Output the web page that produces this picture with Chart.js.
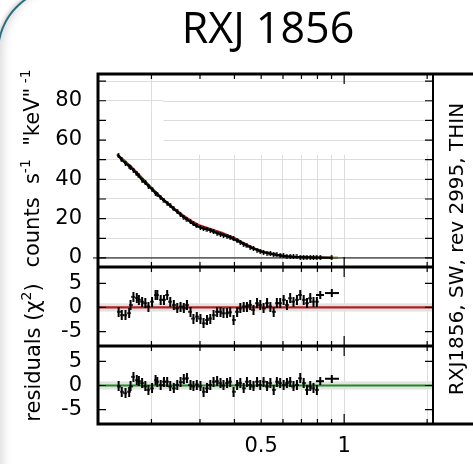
<!DOCTYPE html>
<html>
<head>
<meta charset="utf-8">
<script src="https://cdn.jsdelivr.net/npm/chart.js@4.4.1/dist/chart.umd.min.js"></script>
<style>
  html, body { margin: 0; padding: 0; background: #fff; }
  #wrap { position: relative; width: 473px; height: 464px; overflow: hidden; background: #fff; }
  #frame {
    position: absolute; left: -3px; top: -13px; width: 700px; height: 700px;
    border-top-left-radius: 65px;
    border-top: 2px solid #2d6d7d; border-left: 2px solid #2d6d7d;
    box-shadow: inset 10px 0 8px -6px rgba(0,0,0,0.14), -1px -1px 4px rgba(0,0,0,0.2);
  }
  canvas { position: absolute; left: 0; top: 0; }
</style>
</head>
<body>
<div id="wrap">
  <div id="frame"></div>
  <canvas id="chart" width="473" height="464"></canvas>
</div>
<script>
// energy bins (keV)
const energies = [
  0.152, 0.156, 0.161, 0.166, 0.168, 0.172, 0.177, 0.180, 0.185, 0.190,
  0.195, 0.201, 0.207, 0.210, 0.216, 0.222, 0.228, 0.234, 0.241, 0.248,
  0.255, 0.262, 0.269, 0.277, 0.284, 0.292, 0.301, 0.309, 0.318, 0.327,
  0.336, 0.346, 0.356, 0.365, 0.376, 0.386, 0.397, 0.409, 0.420, 0.432,
  0.444, 0.456, 0.469, 0.483, 0.496, 0.510, 0.525, 0.540, 0.555, 0.570,
  0.586, 0.603, 0.620, 0.637, 0.655, 0.674, 0.693, 0.713, 0.733, 0.753,
  0.774, 0.796, 0.819, 0.902
];
// counts s^-1 keV^-1
const counts = [
  52.0, 50.0, 48.2, 46.6, 46.2, 44.7, 42.8, 41.8, 39.6, 38.2,
  36.6, 34.8, 33.0, 32.3, 30.8, 29.4, 27.9, 26.6, 25.0, 23.5,
  22.0, 20.8, 19.6, 18.4, 17.3, 16.3, 15.5, 15.0, 14.6, 14.1,
  13.4, 12.6, 12.1, 11.6, 11.0, 10.4, 9.7, 8.8, 8.0, 7.1,
  6.3, 5.5, 4.8, 4.0, 3.4, 2.9, 2.5, 2.2, 1.9, 1.6,
  1.3, 1.0, 0.8, 0.7, 0.6, 0.5, 0.4, 0.35, 0.3, 0.25,
  0.2, 0.2, 0.15, 0.1
];
// model curves
const modelE = [0.15, 0.16, 0.17, 0.18, 0.19, 0.2, 0.22, 0.24, 0.26, 0.28, 0.3, 0.32, 0.34,
  0.36, 0.38, 0.4, 0.43, 0.46, 0.5, 0.55, 0.6, 0.65, 0.7, 0.8, 0.95];
const modelRed = [52.8, 49.5, 46.0, 42.5, 39.0, 35.8, 30.0, 25.5, 21.8, 18.8, 16.5, 15.3, 14.0,
  12.8, 11.5, 10.2, 7.8, 5.6, 3.4, 1.9, 1.0, 0.6, 0.4, 0.2, 0.05];
const modelGreen = [52.5, 49.0, 45.5, 42.0, 38.6, 35.3, 29.6, 25.0, 21.2, 18.0, 15.7, 14.6, 13.3,
  12.2, 11.0, 9.8, 7.5, 5.4, 3.3, 1.9, 1.0, 0.6, 0.4, 0.2, 0.05];
// residuals (chi)
const resRed = [
  -0.9, -1.6, -1.6, -1.2, 0.5, 2.2, 2.0, 1.6, 1.2, 0.9,
  0.2, 1.2, 2.6, 2.6, 1.6, 1.6, 2.6, 1.2, 0.5, -0.2,
  0.2, -0.2, 0.5, -0.9, -2.3, -1.9, -2.3, -3.3, -2.6, -2.3,
  -1.6, -0.9, -0.9, -1.2, -1.2, -1.0, -2.6, -0.9, -0.2, 0.2,
  0.2, 0.5, -0.5, 0.9, 0.5, -0.2, 0.9, 0.2, -0.9, 0.9,
  0.9, 1.6, 0.5, 1.9, 1.2, 1.6, 2.6, 1.6, 0.9, 1.9,
  1.2, 1.2, 2.6, 3.0
];
const resGreen = [
  -0.2, -1.3, -1.6, -1.3, -0.2, 1.8, 1.1, 0.9, 0.5, -0.2,
  -0.9, -0.6, 1.1, 0.8, 0.1, 0.8, 0.8, -0.2, -0.6, 0.1,
  0.7, 1.4, 1.5, 0.1, -0.2, 0.2, -0.2, -1.3, -0.6, 0.1,
  0.8, 0.9, 0.5, 0.0, 0.5, 0.8, -1.3, 0.1, 0.5, -0.6,
  0.8, 0.1, -0.2, 0.8, 0.1, 0.8, -0.2, 0.5, -0.9, 0.8,
  0.5, 0.1, 0.5, 0.8, -0.2, 0.1, 1.5, 0.5, -0.9, -0.2,
  -0.6, -0.9, 0.9, 1.4
];
const xRange = [0.128, 2.1];
const zeroLine = [0, 0];
const xTicks = [0.2, 0.3, 0.4, 0.5, 0.6, 0.7, 0.8, 0.9, 1, 2];
const xLabels = [0.5, 1];
const bandHalf = 0.85;
// blanked patches of grid in the upper panel (energy range, counts range)
const blankRight = { e: [0.221, 2.1], c: [52.5, 93.6], keepH: [60, 70, 80, 90] };
const blankLeft = { e: [0.128, 0.221], c: [53, 75], keepV: [0.2] };

const RED = "#b01e1e";
const GREEN = "#1e8c1e";
const GRID = "#dddddd";
const FONT = "DejaVu Sans";

function crossImg(w, h, vw, hw) {
  const c = document.createElement("canvas");
  c.width = w; c.height = h;
  const g = c.getContext("2d");
  g.fillStyle = "#000";
  g.fillRect((w - vw) / 2, 0, vw, h);
  g.fillRect(0, (h - hw) / 2, w, hw);
  return c;
}
const crossTiny = crossImg(3, 5, 1.5, 1.5);
const crossRes = crossImg(4, 10, 2, 1.5);
const crossMid = crossImg(8, 8, 2, 2);
const crossWide = crossImg(14, 8, 2, 2);

function resStyle(ctx) {
  const n = energies.length;
  if (ctx.dataIndex === n - 1) return crossWide;
  if (ctx.dataIndex === n - 2) return crossMid;
  return crossRes;
}

function pts(xs, ys) {
  return xs.map((x, i) => ({ x: x, y: ys[i] }));
}

// rotated label with superscripts
function drawRotated(ctx, cx, cy, parts, size) {
  ctx.save();
  ctx.translate(cx, cy);
  ctx.rotate(-Math.PI / 2);
  ctx.fillStyle = "#000";
  ctx.textBaseline = "alphabetic";
  ctx.textAlign = "left";
  let total = 0;
  parts.forEach(p => {
    ctx.font = (p.sup ? Math.round(size * 0.65) : size) + "px '" + FONT + "'";
    p.w = ctx.measureText(p.t).width;
    total += p.w;
  });
  let x = -total / 2;
  parts.forEach(p => {
    ctx.font = (p.sup ? Math.round(size * 0.65) : size) + "px '" + FONT + "'";
    ctx.fillText(p.t, x, p.sup ? -size * 0.45 : 0);
    x += p.w;
  });
  ctx.restore();
}

const panelFrame = {
  id: "panelFrame",
  beforeDatasetsDraw(chart) {
    const { ctx, chartArea: a, scales } = chart;
    const x = scales.x, y = scales.y;
    ctx.save();

    // blank patches where the grid is missing
    const bx0 = x.getPixelForValue(blankRight.e[0]), bx1 = Math.min(x.getPixelForValue(blankRight.e[1]), a.right - 1);
    const by0 = Math.max(y.getPixelForValue(blankRight.c[1]), a.top + 1), by1 = y.getPixelForValue(blankRight.c[0]);
    ctx.fillStyle = "#fff";
    ctx.fillRect(bx0, by0, bx1 - bx0, by1 - by0);
    ctx.strokeStyle = GRID;
    ctx.lineWidth = 1;
    blankRight.keepH.forEach(v => {
      const p = Math.round(y.getPixelForValue(v)) + 0.5;
      ctx.beginPath(); ctx.moveTo(bx0, p); ctx.lineTo(bx1, p); ctx.stroke();
    });
    const lx0 = a.left + 2, lx1 = x.getPixelForValue(blankLeft.e[1]);
    const ly0 = y.getPixelForValue(blankLeft.c[1]), ly1 = y.getPixelForValue(blankLeft.c[0]);
    ctx.fillRect(lx0, ly0, lx1 - lx0, ly1 - ly0);
    blankLeft.keepV.forEach(v => {
      const p = Math.round(x.getPixelForValue(v)) + 0.5;
      ctx.beginPath(); ctx.moveTo(p, ly0); ctx.lineTo(p, ly1); ctx.stroke();
    });

    ["r1", "r2"].forEach(id => {
      const s = scales[id];
      const y0 = s.getPixelForValue(bandHalf);
      const y1 = s.getPixelForValue(-bandHalf);
      ctx.fillStyle = "#e2e2e2";
      ctx.fillRect(a.left, y0, a.right - a.left, y1 - y0);
    });
    const z = y.getPixelForValue(0);
    ctx.strokeStyle = "#000";
    ctx.lineWidth = 1;
    ctx.beginPath();
    ctx.moveTo(a.left - 5, z);
    ctx.lineTo(a.right, z);
    ctx.stroke();
    ctx.restore();
  },
  afterDraw(chart) {
    const { ctx, chartArea: a, scales } = chart;
    const x = scales.x;
    ctx.save();
    ctx.strokeStyle = "#000";
    ctx.lineWidth = 1.2;
    ["y", "r1", "r2"].forEach(id => {
      const s = scales[id];
      s.ticks.forEach(t => {
        const p = s.getPixelForValue(t.value);
        ctx.beginPath();
        ctx.moveTo(a.left, p); ctx.lineTo(a.left + 8, p);
        ctx.moveTo(a.right, p); ctx.lineTo(a.right - 8, p);
        ctx.stroke();
      });
      xTicks.forEach(v => {
        const p = x.getPixelForValue(v);
        const len = v === 1 ? 10 : 5;
        ctx.beginPath();
        ctx.moveTo(p, s.top); ctx.lineTo(p, s.top + len);
        ctx.moveTo(p, s.bottom); ctx.lineTo(p, s.bottom - len);
        ctx.stroke();
      });
    });

    // frame
    ctx.lineWidth = 3;
    ctx.beginPath();
    ctx.moveTo(a.left - 1.5, a.top); ctx.lineTo(chart.width, a.top);
    ctx.moveTo(a.left - 1.5, a.bottom); ctx.lineTo(chart.width, a.bottom);
    ctx.moveTo(a.left, a.top); ctx.lineTo(a.left, a.bottom);
    ctx.moveTo(a.left, scales.y.bottom); ctx.lineTo(a.right, scales.y.bottom);
    ctx.moveTo(a.left, scales.r1.bottom); ctx.lineTo(a.right, scales.r1.bottom);
    ctx.stroke();
    ctx.lineWidth = 2;
    ctx.beginPath();
    ctx.moveTo(a.right, a.top); ctx.lineTo(a.right, a.bottom);
    ctx.stroke();

    // axis titles
    drawRotated(ctx, 39, (scales.y.top + scales.y.bottom) / 2 - 2, [
      { t: "counts  s" }, { t: "-1", sup: true }, { t: "  \"keV\"" }, { t: " -1", sup: true }
    ], 21);
    drawRotated(ctx, 40, (scales.r1.top + scales.r2.bottom) / 2 + 7, [
      { t: "residuals (\u03C7" }, { t: "2", sup: true }, { t: ")" }
    ], 21);

    // right label
    ctx.save();
    ctx.translate(463, (a.top + a.bottom) / 2);
    ctx.rotate(-Math.PI / 2);
    ctx.font = "20px '" + FONT + "'";
    ctx.fillStyle = "#000";
    ctx.textAlign = "center";
    ctx.textBaseline = "alphabetic";
    ctx.fillText("RXJ1856, SW, rev 2995, THIN", 0, 0);
    ctx.restore();

    // title
    ctx.font = "43px 'Open Sans'";
    ctx.fillStyle = "#000";
    ctx.textAlign = "center";
    ctx.textBaseline = "alphabetic";
    ctx.fillText("RXJ 1856", 268, 43);
    ctx.restore();
  }
};

const tickFont = { family: FONT, size: 21 };

new Chart(document.getElementById("chart"), {
  type: "line",
  data: {
    datasets: [
      { label: "data", yAxisID: "y", data: pts(energies, counts), borderColor: "#000",
        borderWidth: 2.2, pointStyle: crossTiny, pointRadius: 3, order: 0 },
      { label: "model 1", yAxisID: "y", data: pts(modelE, modelRed), borderColor: RED,
        borderWidth: 2, pointRadius: 0, order: 2 },
      { label: "model 2", yAxisID: "y", data: pts(modelE, modelGreen), borderColor: GREEN,
        borderWidth: 1.8, pointRadius: 0, order: 1 },
      { label: "res 1", yAxisID: "r1", data: pts(energies, resRed), showLine: false,
        pointStyle: resStyle, pointRadius: 3, order: 0 },
      { label: "zero 1", yAxisID: "r1", data: pts(xRange, zeroLine), borderColor: RED,
        borderWidth: 2.2, pointRadius: 0, order: 1 },
      { label: "res 2", yAxisID: "r2", data: pts(energies, resGreen), showLine: false,
        pointStyle: resStyle, pointRadius: 3, order: 0 },
      { label: "zero 2", yAxisID: "r2", data: pts(xRange, zeroLine), borderColor: GREEN,
        borderWidth: 2.2, pointRadius: 0, order: 1 }
    ]
  },
  options: {
    responsive: false,
    animation: false,
    devicePixelRatio: 1,
    layout: { padding: { left: 0, right: 40, top: 74, bottom: 0 } },
    plugins: { legend: { display: false }, tooltip: { enabled: false } },
    scales: {
      x: {
        type: "logarithmic", position: "bottom", min: xRange[0], max: xRange[1],
        afterBuildTicks: s => { s.ticks = xTicks.map(v => ({ value: v })); },
        afterFit: s => { s.height = 40; },
        grid: { color: GRID, lineWidth: 1, drawTicks: false },
        border: { display: false },
        ticks: { autoSkip: false, maxRotation: 0, padding: 10, color: "#000", font: tickFont,
          callback: v => xLabels.includes(v) ? String(v) : "" }
      },
      r2: {
        position: "left", stack: "panels", stackWeight: 78, min: -8, max: 8.2,
        afterFit: s => { s.width = 98; },
        grid: { display: false, drawTicks: false }, border: { display: false },
        ticks: { stepSize: 5, includeBounds: false, autoSkip: false, padding: 16, color: "#000", font: tickFont }
      },
      r1: {
        position: "left", stack: "panels", stackWeight: 79, min: -8, max: 8.4,
        afterFit: s => { s.width = 98; },
        grid: { display: false, drawTicks: false }, border: { display: false },
        ticks: { stepSize: 5, includeBounds: false, autoSkip: false, padding: 16, color: "#000", font: tickFont }
      },
      y: {
        position: "left", stack: "panels", stackWeight: 193, min: -4.6, max: 93.6,
        afterFit: s => { s.width = 98; },
        grid: { color: GRID, lineWidth: 1, drawTicks: false }, border: { display: false },
        ticks: { stepSize: 10, includeBounds: false, autoSkip: false, padding: 16, color: "#000", font: tickFont,
          callback: v => v % 20 === 0 ? String(v) : "" }
      }
    }
  },
  plugins: [panelFrame]
});
</script>
</body>
</html>
